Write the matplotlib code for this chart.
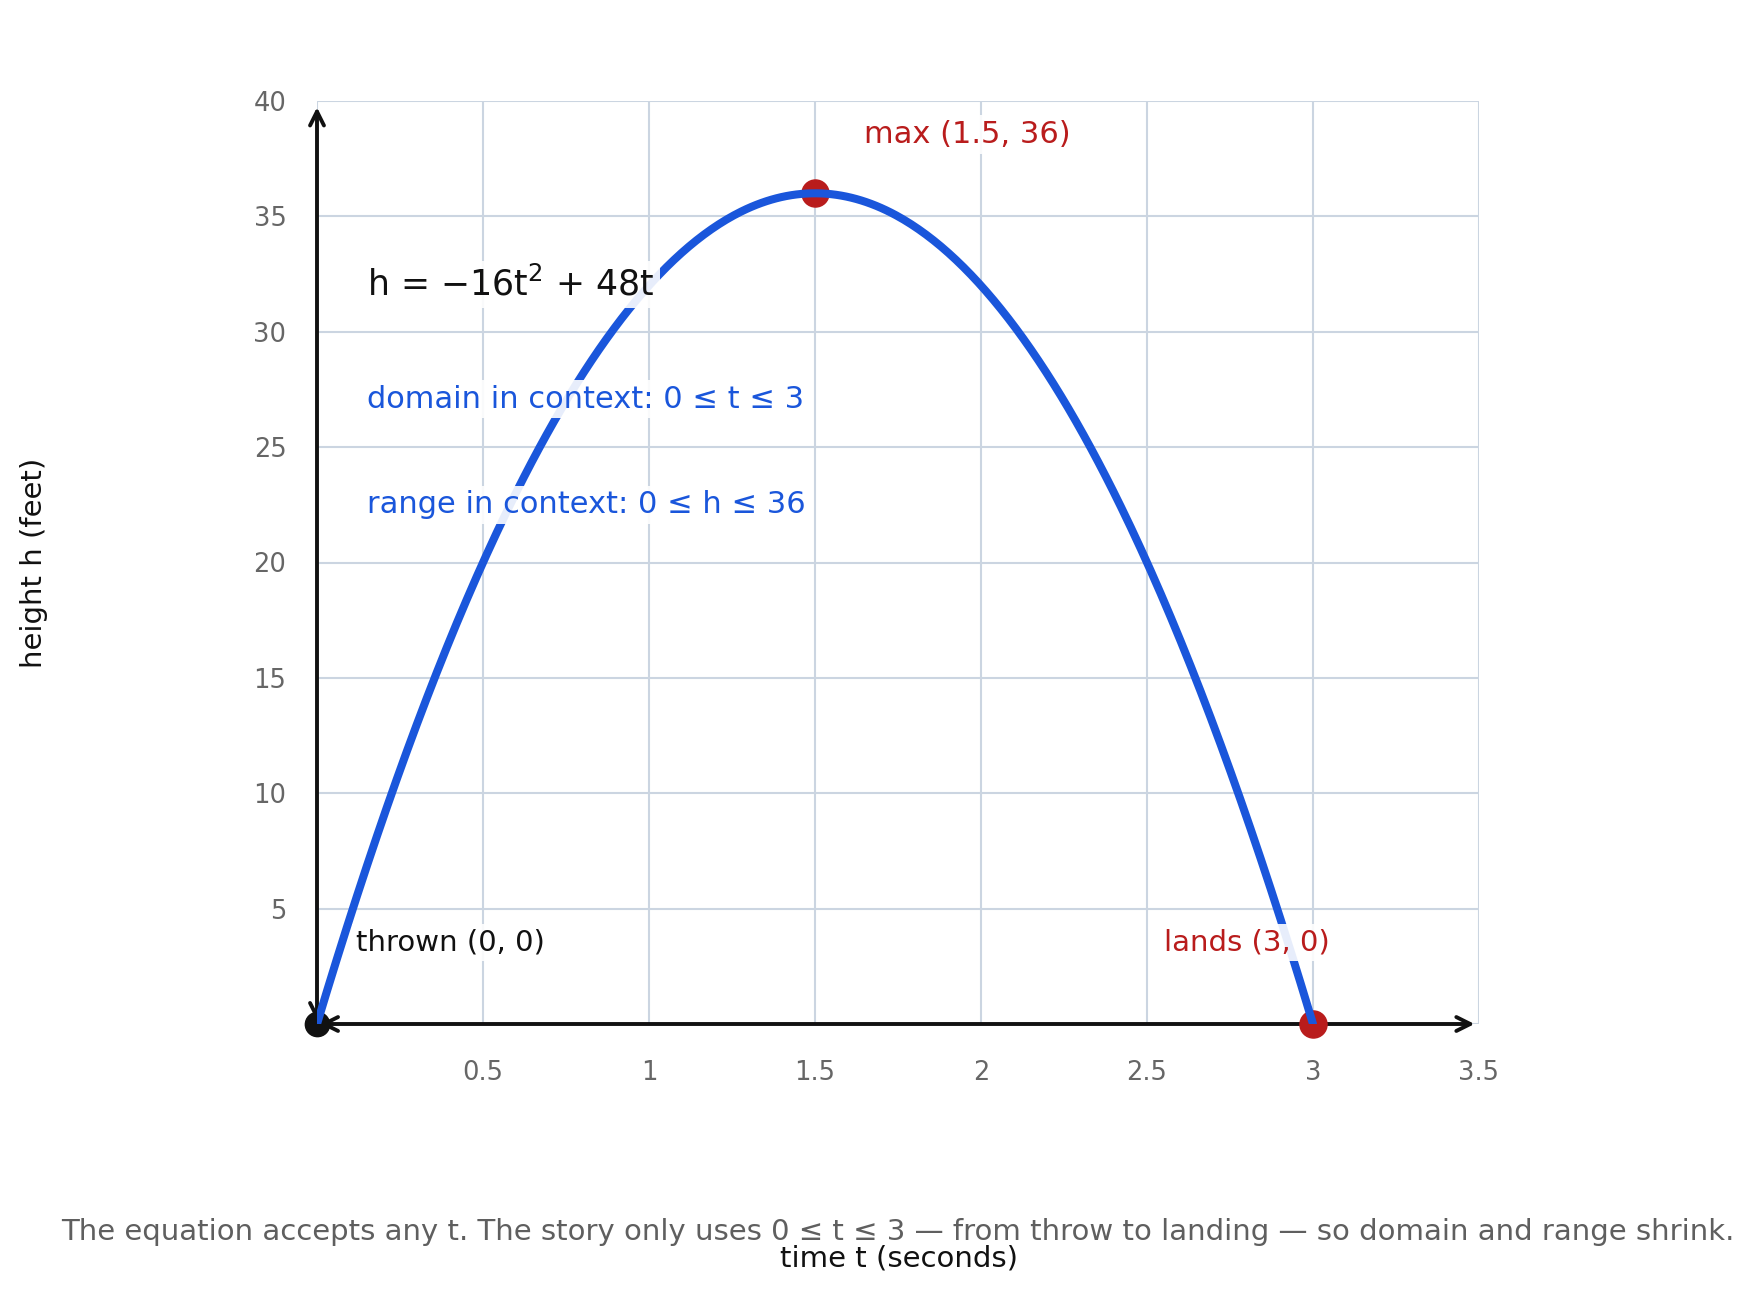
import numpy as np
import matplotlib
matplotlib.use("Agg")
import matplotlib.pyplot as plt

# ---- data ----
coef_a = -16.0          # h = a t^2 + b t
coef_b = 48.0
t_start, t_end = 0.0, 3.0
key_t = [0.0, 1.5, 3.0]
key_h = [0.0, 36.0, 0.0]
x_ticks = [0, 0.5, 1, 1.5, 2, 2.5, 3, 3.5]
x_tick_labels = ["", "0.5", "1", "1.5", "2", "2.5", "3", "3.5"]
y_ticks = [0, 5, 10, 15, 20, 25, 30, 35, 40]
y_tick_labels = ["", "5", "10", "15", "20", "25", "30", "35", "40"]

BLUE = "#1a56db"
RED = "#b91c1c"
GRID = "#cbd5e1"
GRAY = "#666666"

plt.rcParams['font.family'] = ['DejaVu Sans']

fig = plt.figure(figsize=(17.54, 12.92), dpi=100)
ax = fig.add_axes([317/1754, 1 - 1024/1292, (1479-317)/1754, (1024-101)/1292])
ax.set_xlim(0, 3.5)
ax.set_ylim(0, 40)
for s in ax.spines.values():
    s.set_visible(False)
ax.set_xticks(x_ticks)
ax.set_xticklabels(x_tick_labels)
ax.set_yticks(y_ticks)
ax.set_yticklabels(y_tick_labels)
ax.tick_params(axis='both', length=0, labelsize=18.5, labelcolor=GRAY)
ax.tick_params(axis='x', pad=26)
ax.tick_params(axis='y', pad=22)
ax.grid(True, color=GRID, linewidth=1.5)
ax.set_axisbelow(True)

# axis arrows
ax.annotate("", xy=(3.495, 0), xytext=(0, 0),
            arrowprops=dict(arrowstyle="<->", color="#111111", lw=2.8,
                            mutation_scale=25), zorder=3)
ax.annotate("", xy=(0, 39.85), xytext=(0, 0),
            arrowprops=dict(arrowstyle="<->", color="#111111", lw=2.8,
                            mutation_scale=25), zorder=3)

ax.plot(key_t[0], key_h[0], 'o', color="#111111", ms=17.5, zorder=4, clip_on=False)
ax.plot(key_t[1:], key_h[1:], 'o', color=RED, ms=19.5, zorder=4, clip_on=False)

t = np.linspace(t_start, t_end, 400)
h = coef_a * t**2 + coef_b * t
ax.plot(t, h, color=BLUE, lw=5.8, solid_capstyle='round', zorder=5)

box = dict(boxstyle="square,pad=0.15", facecolor="white", edgecolor="none", alpha=0.9)
ax.text(0.152, 32.06, r"h = −16t$^{2}$ + 48t", fontsize=25, color="#111111",
        va='center', ha='left', bbox=box, zorder=6)
ax.text(0.152, 27.07, "domain in context: 0 ≤ t ≤ 3", fontsize=22, color=BLUE,
        va='center', ha='left', bbox=box, zorder=6)
ax.text(0.152, 22.5, "range in context: 0 ≤ h ≤ 36", fontsize=22, color=BLUE,
        va='center', ha='left', bbox=box, zorder=6)
ax.text(1.647, 38.55, "max (1.5, 36)", fontsize=22, color=RED,
        va='center', ha='left', bbox=box, zorder=6)
ax.text(0.118, 3.54, "thrown (0, 0)", fontsize=21, color="#111111",
        va='center', ha='left', bbox=box, zorder=6)
ax.text(2.55, 3.54, "lands (3, 0)", fontsize=21, color=RED,
        va='center', ha='left', bbox=box, zorder=6)

fig.text(34/1754, 1 - 563/1292, "height h (feet)", rotation=90, fontsize=21,
         color="#111111", ha='center', va='center')
fig.text(899/1754, 1 - 1259/1292, "time t (seconds)", fontsize=21,
         color="#111111", ha='center', va='center')
fig.text(898/1754, 1 - 1232/1292,
         "The equation accepts any t. The story only uses 0 ≤ t ≤ 3 — from throw to landing — so domain and range shrink.",
         fontsize=21, color="#5f5f5f", ha='center', va='center')

fig.savefig("out.png", dpi=100)
